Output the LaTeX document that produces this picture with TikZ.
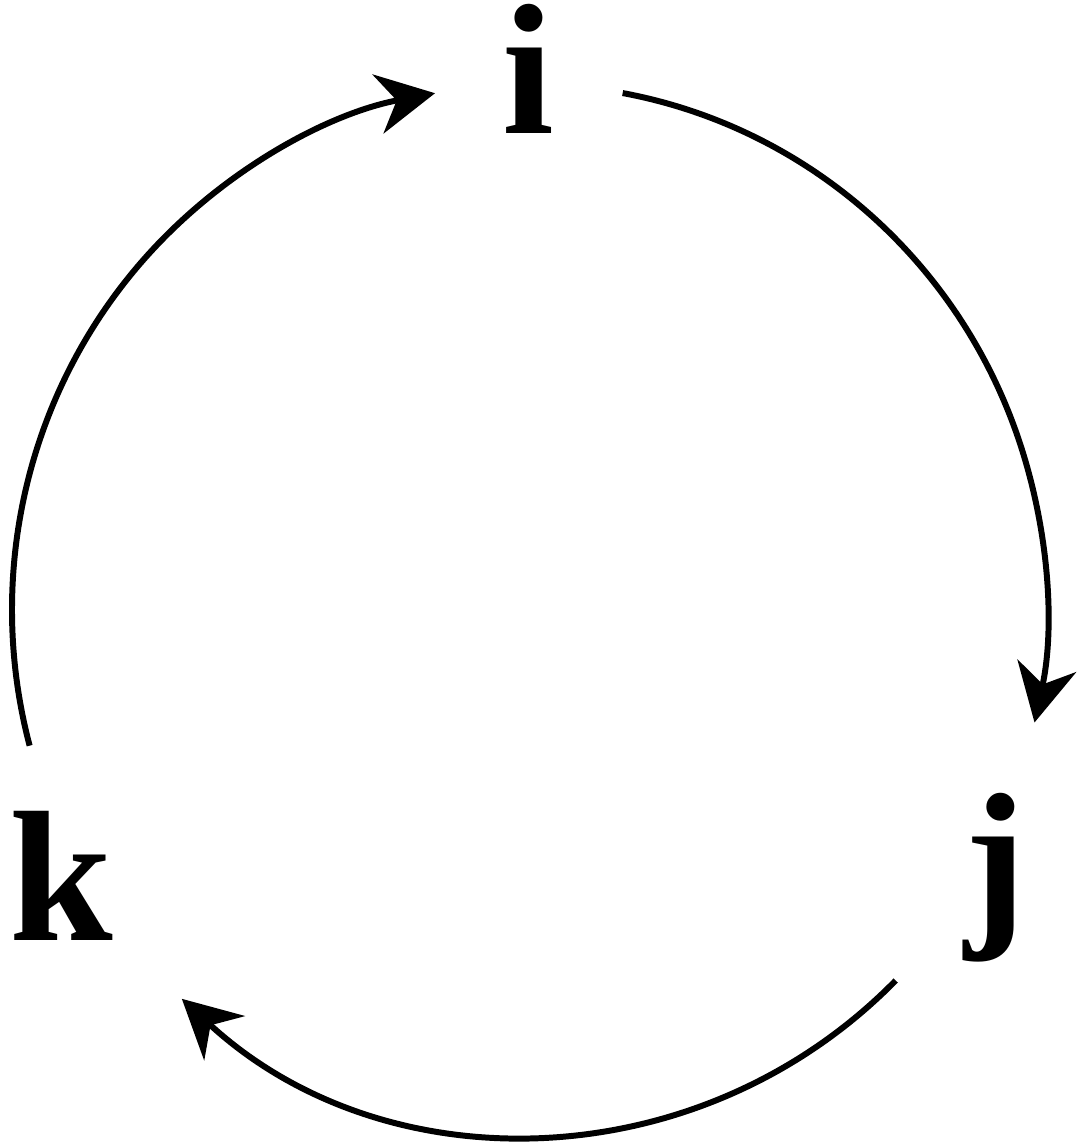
\documentclass[tikz,border=0pt]{standalone}
\usepackage{fontspec}
\setmainfont{Liberation Serif}
\usetikzlibrary{arrows.meta,calc}
\begin{document}
\begin{tikzpicture}[x=1cm,y=1cm,
		vtx/.style={font=\fontsize{53}{60}\selectfont\bfseries,inner sep=0pt,anchor=base},
		ar/.style={line width=1.7pt,-{Stealth[length=5.8mm,width=6mm,inset=1.9mm]}}]
		\useasboundingbox (0,0) rectangle (10.82,-11.43);
		\node[vtx] (i) at (5.28,-1.33) {i};
		\node[vtx] (j) at (9.96,-9.22) {j};
		\node[vtx] (k) at (0.61,-9.40) {k};
		\coordinate (c) at (5.293,-6.097);
		\coordinate (i-out) at ($(c)+(79.6:5.173 and 5.253)$);
		\coordinate (j-out) at ($(c)+(-44.9:5.173 and 5.253)$);
		\coordinate (k-out) at ($(c)+(195:5.173 and 5.253)$);
		\draw[ar] (i-out) arc[start angle=79.6,end angle=-12.4,x radius=5.173,y radius=5.253];
		\draw[ar] (j-out) arc[start angle=-44.9,end angle=-132.2,x radius=5.173,y radius=5.253];
		\draw[ar] (k-out) arc[start angle=195,end angle=100.5,x radius=5.173,y radius=5.253];
	\end{tikzpicture}
\end{document}
